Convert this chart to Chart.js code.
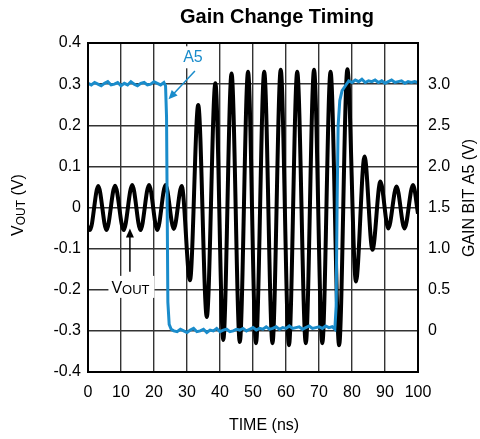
<!DOCTYPE html>
<html>
<head>
<meta charset="utf-8">
<title>Gain Change Timing</title>
<script src="https://cdn.jsdelivr.net/npm/chart.js@4.4.1/dist/chart.umd.min.js"></script>
<style>
  html, body { margin: 0; padding: 0; background: #fff; }
</style>
</head>
<body>
<canvas id="gainChart" width="480" height="439"></canvas>
<script>
const voutTime = [0, 0.6, 3.1, 5.6, 8.2, 10.8, 13.4, 15.9, 18.5, 21.0, 23.5, 26.0, 28.4,
    30.9, 33.4, 36.0, 38.6, 41.0, 43.5, 46.0, 48.5, 50.9, 53.4, 55.9, 58.4, 60.9, 63.4,
    66.0, 68.5, 71.0, 73.5, 76.1, 78.6, 81.2, 83.8, 86.2, 88.6, 91.0, 93.5, 95.9, 98.5, 100];
const voutVolts = [-0.045, -0.055, 0.052, -0.055, 0.053, -0.055, 0.055, -0.055, 0.055, -0.055, 0.055, -0.052, 0.052,
    -0.177, 0.249, -0.266, 0.302, -0.322, 0.326, -0.327, 0.330, -0.330, 0.330, -0.330, 0.335, -0.335, 0.330,
    -0.330, 0.335, -0.330, 0.330, -0.335, 0.336, -0.180, 0.124, -0.103, 0.063, -0.051, 0.051, -0.051, 0.055, -0.015];

// Gain bit A5 trace (ns, V on right axis)
const a5Time = [0, 1, 2, 3, 4, 5, 6, 7, 8, 9, 10, 11, 12, 13, 14, 15, 16, 17, 18, 19, 20, 21, 22, 23,
    23.5, 23.8, 24.2, 24.6, 25.2, 26,
    27, 28, 29, 30, 31, 32, 33, 34, 35, 36, 37, 38, 39, 40, 41, 42, 43, 44, 45, 46, 47, 48, 49, 50,
    51, 52, 53, 54, 55, 56, 57, 58, 59, 60, 61, 62, 63, 64, 65, 66, 67, 68, 69, 70, 71, 72, 73, 74,
    74.8, 75.2, 75.5, 75.8, 76.3, 77, 78,
    79, 80, 81, 82, 83, 84, 85, 86, 87, 88, 89, 90, 91, 92, 93, 94, 95, 96, 97, 98, 99, 100];
const a5Volts = [3.01, 2.99, 3.02, 3.00, 2.98, 3.01, 3.03, 2.99, 3.00, 3.02, 2.98, 3.01, 2.99, 3.03, 3.00, 2.98, 3.01, 3.02, 2.99, 3.00, 3.03, 3.01, 2.99, 3.02,
    2.98, 2.60, 0.35, 0.08, 0.02, 0.00,
    -0.01, 0.02, 0.00, -0.02, 0.01, 0.03, -0.01, 0.00, 0.02, -0.02, 0.01, 0.00, 0.03, -0.01, 0.01, 0.02, -0.01, 0.00, 0.02, 0.01, 0.03, 0.00, 0.02, 0.04,
    0.01, 0.03, 0.02, 0.05, 0.02, 0.03, 0.05, 0.02, 0.04, 0.03, 0.06, 0.03, 0.04, 0.05, 0.02, 0.04, 0.06, 0.03, 0.04, 0.05, 0.03, 0.06, 0.04, 0.05,
    0.02, 0.30, 1.60, 2.50, 2.80, 2.92, 2.98,
    3.04, 3.02, 3.05, 3.03, 3.06, 3.02, 3.04, 3.03, 3.05, 3.02, 3.04, 3.01, 3.03, 3.05, 3.02, 3.03, 3.04, 3.01, 3.03, 3.02, 3.03, 3.02];

// axis ticks
const timeTicks = [0, 10, 20, 30, 40, 50, 60, 70, 80, 90, 100];
const voutTicks = [-0.4, -0.3, -0.2, -0.1, 0, 0.1, 0.2, 0.3, 0.4];
const voutTickLabels = ['-0.4', '-0.3', '-0.2', '-0.1', '0', '0.1', '0.2', '0.3', '0.4'];
const gainTicks = [0, 0.5, 1, 1.5, 2, 2.5, 3];
const gainTickLabels = ['0', '0.5', '1.0', '1.5', '2.0', '2.5', '3.0'];

const FONT = '"Liberation Sans", Arial, Helvetica, sans-serif';
const BLUE = '#1a8ccb';
const GRID = '#333';

function arrow(ctx, x1, y1, x2, y2, color) {
    const ang = Math.atan2(y2 - y1, x2 - x1);
    const len = 9, half = 4;
    ctx.strokeStyle = color;
    ctx.fillStyle = color;
    ctx.lineWidth = 1.5;
    ctx.beginPath();
    ctx.moveTo(x1, y1);
    ctx.lineTo(x2 - Math.cos(ang) * len * 0.8, y2 - Math.sin(ang) * len * 0.8);
    ctx.stroke();
    ctx.beginPath();
    ctx.moveTo(x2, y2);
    ctx.lineTo(x2 - Math.cos(ang) * len - Math.sin(ang) * half, y2 - Math.sin(ang) * len + Math.cos(ang) * half);
    ctx.lineTo(x2 - Math.cos(ang) * len + Math.sin(ang) * half, y2 - Math.sin(ang) * len - Math.cos(ang) * half);
    ctx.closePath();
    ctx.fill();
}

// frame, labels, arrows and titles
const decorations = {
    id: 'decorations',
    afterDatasetsDraw(chart) {
        const ctx = chart.ctx;
        const x = chart.scales.x, y = chart.scales.y;
        const a = chart.chartArea;
        ctx.save();

        // A5 label
        ctx.fillStyle = '#fff';
        ctx.fillRect(x.getPixelForValue(29.3), y.getPixelForValue(0.392), 20, 22);
        ctx.font = '16px ' + FONT;
        ctx.fillStyle = BLUE;
        ctx.textAlign = 'center';
        ctx.textBaseline = 'middle';
        ctx.fillText('A5', x.getPixelForValue(31.8), y.getPixelForValue(0.365));
        arrow(ctx, x.getPixelForValue(32.4), y.getPixelForValue(0.332),
            x.getPixelForValue(24.4), y.getPixelForValue(0.263), BLUE);

        // VOUT label
        const vx = x.getPixelForValue(7.1), vy = y.getPixelForValue(-0.193);
        ctx.fillStyle = '#fff';
        ctx.fillRect(vx - 3, vy - 11, 46, 22);
        ctx.fillStyle = '#000';
        ctx.textAlign = 'left';
        ctx.textBaseline = 'alphabetic';
        ctx.font = '16px ' + FONT;
        ctx.fillText('V', vx, vy + 6);
        const vw = ctx.measureText('V').width;
        ctx.font = '13px ' + FONT;
        ctx.fillText('OUT', vx + vw, vy + 7);
        arrow(ctx, x.getPixelForValue(12.7), y.getPixelForValue(-0.156),
            x.getPixelForValue(12.7), y.getPixelForValue(-0.051), '#000');

        // plot frame
        ctx.strokeStyle = '#000';
        ctx.lineWidth = 2;
        ctx.strokeRect(a.left, a.top, a.right - a.left, a.bottom - a.top);
        ctx.restore();
    },
    afterDraw(chart) {
        const ctx = chart.ctx;
        ctx.save();
        ctx.fillStyle = '#000';
        ctx.textBaseline = 'middle';
        ctx.textAlign = 'center';

        ctx.font = 'bold 20px ' + FONT;
        ctx.fillText('Gain Change Timing', 277, 17);

        ctx.font = '16px ' + FONT;
        ctx.fillText('TIME (ns)', 264, 426);

        // right axis title
        ctx.save();
        ctx.translate(470, 198);
        ctx.rotate(-Math.PI / 2);
        ctx.fillText('GAIN BIT A5 (V)', 0, 0);
        ctx.restore();

        // left axis title with subscript
        ctx.save();
        ctx.translate(17, 205);
        ctx.rotate(-Math.PI / 2);
        ctx.textAlign = 'left';
        ctx.textBaseline = 'alphabetic';
        ctx.font = '16px ' + FONT;
        const w1 = ctx.measureText('V').width;
        const w3 = ctx.measureText(' (V)').width;
        ctx.font = '12px ' + FONT;
        const w2 = ctx.measureText('OUT').width;
        let sx = -(w1 + w2 + w3) / 2;
        ctx.font = '16px ' + FONT;
        ctx.fillText('V', sx, 6);
        ctx.font = '12px ' + FONT;
        ctx.fillText('OUT', sx + w1, 8);
        ctx.font = '16px ' + FONT;
        ctx.fillText(' (V)', sx + w1 + w2, 6);
        ctx.restore();

        ctx.restore();
    }
};

const ctx = document.getElementById('gainChart').getContext('2d');
window.gainChart = new Chart(ctx, {
    type: 'line',
    data: {
        datasets: [{
            label: 'A5',
            data: a5Time.map((t, i) => ({ x: t, y: a5Volts[i] })),
            yAxisID: 'y1',
            borderColor: BLUE,
            borderWidth: 3,
            pointRadius: 0,
            tension: 0,
            fill: false
        }, {
            label: 'VOUT',
            data: voutTime.map((t, i) => ({ x: t, y: voutVolts[i] })),
            yAxisID: 'y',
            borderColor: '#000',
            borderWidth: 4,
            pointRadius: 0,
            cubicInterpolationMode: 'monotone',
            fill: false
        }]
    },
    options: {
        responsive: false,
        animation: false,
        devicePixelRatio: 1,
        layout: { padding: { top: 43, left: 0, right: 0, bottom: 0 } },
        plugins: {
            legend: { display: false },
            title: { display: false },
            tooltip: { enabled: false }
        },
        scales: {
            x: {
                type: 'linear',
                min: 0,
                max: 100,
                afterBuildTicks: s => { s.ticks = timeTicks.map(v => ({ value: v })); },
                afterFit: s => { s.height = 67; },
                grid: { color: GRID, lineWidth: 1.4, drawTicks: false },
                border: { display: false },
                ticks: {
                    color: '#000',
                    font: { family: FONT, size: 16 },
                    padding: 11,
                    maxRotation: 0
                }
            },
            y: {
                position: 'left',
                min: -0.4,
                max: 0.4,
                afterBuildTicks: s => { s.ticks = voutTicks.map(v => ({ value: v })); },
                afterFit: s => { s.width = 88; },
                grid: { color: GRID, lineWidth: 1.4, drawTicks: false },
                border: { display: false },
                ticks: {
                    color: '#000',
                    font: { family: FONT, size: 16 },
                    padding: 7,
                    callback: (v, i) => voutTickLabels[i]
                }
            },
            y1: {
                position: 'right',
                min: -0.5,
                max: 3.5,
                afterBuildTicks: s => { s.ticks = gainTicks.map(v => ({ value: v })); },
                afterFit: s => { s.width = 62; },
                grid: { drawOnChartArea: false, drawTicks: false },
                border: { display: false },
                ticks: {
                    color: '#000',
                    font: { family: FONT, size: 16 },
                    padding: 10,
                    callback: (v, i) => gainTickLabels[i]
                }
            }
        }
    },
    plugins: [decorations]
});
</script>
</body>
</html>
